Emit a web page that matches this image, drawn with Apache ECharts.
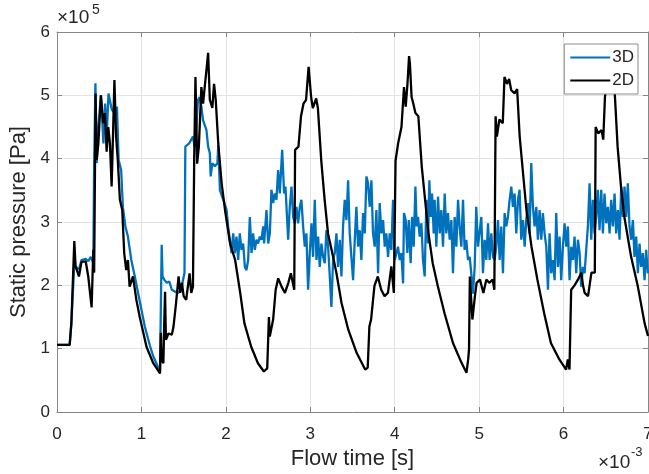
<!DOCTYPE html>
<html>
<head>
<meta charset="utf-8">
<script src="https://cdn.jsdelivr.net/npm/echarts@6/dist/echarts.min.js"></script>
<style>html,body{margin:0;padding:0;background:#fff;}#chart{width:649px;height:474px;}</style>
</head>
<body>
<div id="chart"></div>
<script>
// Units: time in 1e-3 s, pressure in 1e5 Pa (as shown on the axes)
const xTicks = [0, 1, 2, 3, 4, 5, 6, 7];
const yTicks = [0, 1, 2, 3, 4, 5, 6];
const xExponent = '-3';
const yExponent = '5';
const seriesNames = ['3D', '2D'];

// 2D (black)
const t2D = [0,0.15,0.17,0.19,0.205,0.22,0.26,0.29,0.34,0.37,0.41,0.43,0.44,0.457,0.47,0.49,0.52,0.548,0.568,0.588,0.607,0.627,0.647,0.667,0.68,0.70,0.72,0.745,0.773,0.796,0.82,0.84,0.86,0.90,0.94,0.98,1.06,1.14,1.22,1.23,1.24,1.26,1.27,1.28,1.29,1.32,1.36,1.38,1.41,1.44,1.46,1.48,1.50,1.53,1.57,1.59,1.61,1.625,1.64,1.66,1.68,1.71,1.73,1.75,1.77,1.79,1.81,1.84,1.86,1.88,1.91,1.95,1.99,2.05,2.11,2.17,2.22,2.30,2.38,2.45,2.49,2.51,2.52,2.56,2.59,2.62,2.66,2.70,2.74,2.77,2.81,2.82,2.86,2.89,2.92,2.95,2.98,3.01,3.03,3.07,3.09,3.13,3.17,3.21,3.27,3.31,3.37,3.45,3.55,3.65,3.68,3.70,3.72,3.76,3.80,3.84,3.88,3.92,3.96,3.99,4.01,4.04,4.08,4.11,4.13,4.15,4.17,4.18,4.20,4.22,4.245,4.28,4.32,4.36,4.40,4.45,4.51,4.59,4.69,4.79,4.85,4.87,4.88,4.89,4.92,4.95,4.97,5.01,5.05,5.085,5.12,5.16,5.18,5.195,5.21,5.24,5.28,5.30,5.33,5.355,5.38,5.42,5.45,5.48,5.52,5.56,5.62,5.69,5.77,5.85,5.95,6.03,6.05,6.07,6.09,6.13,6.17,6.21,6.23,6.25,6.29,6.33,6.37,6.38,6.41,6.45,6.47,6.49,6.51,6.54,6.57,6.60,6.64,6.68,6.72,6.80,6.88,6.96,7.0];
const p2D = [1.06,1.06,1.40,1.40,2.70,2.30,2.14,2.37,2.38,2.14,1.65,2.56,2.20,5.03,3.98,4.24,5.00,4.56,4.72,4.11,4.50,4.24,3.56,4.56,5.24,4.35,3.98,3.35,3.19,2.51,2.24,2.40,1.98,2.14,1.77,1.50,1.03,0.77,0.61,1.25,0.81,0.77,1.40,1.90,1.14,1.24,1.22,1.35,1.72,2.14,1.88,2.04,1.83,1.77,2.19,1.88,1.98,3.97,5.29,3.92,4.19,5.13,4.87,4.87,5.40,5.67,4.93,4.80,5.18,4.93,4.24,3.61,3.19,2.66,2.40,1.88,1.40,1.03,0.77,0.64,0.69,1.50,1.19,1.46,1.93,2.11,1.98,1.88,2.04,2.19,1.93,4.14,4.19,4.67,4.87,4.93,5.45,4.97,4.80,4.95,4.80,3.97,3.35,2.82,2.45,2.19,1.72,1.30,0.93,0.67,0.70,1.35,1.46,1.99,2.14,1.93,1.83,1.88,2.30,1.88,3.97,4.24,4.50,5.13,4.82,5.16,5.62,5.50,4.97,4.87,4.72,4.67,3.88,3.35,2.82,2.35,1.99,1.56,1.09,0.78,0.62,0.83,0.99,2.14,1.46,1.83,2.04,2.09,1.88,2.09,2.04,2.09,1.93,4.67,4.35,4.62,4.56,5.29,5.18,5.26,5.08,5.03,5.10,4.35,3.77,3.19,2.61,2.09,1.56,1.09,0.83,0.67,0.83,0.67,1.93,2.00,2.09,2.20,2.00,1.88,1.83,2.20,2.20,4.50,4.40,4.45,4.30,4.97,5.19,5.60,5.50,5.19,4.19,3.56,3.08,2.45,1.98,1.40,1.20];

// 3D (blue)
const t3D = [0,0.15,0.17,0.19,0.205,0.22,0.26,0.29,0.34,0.37,0.40,0.43,0.44,0.455,0.47,0.49,0.52,0.55,0.57,0.59,0.61,0.63,0.65,0.68,0.71,0.73,0.76,0.78,0.81,0.84,0.88,0.92,0.98,1.04,1.10,1.14,1.20,1.22,1.24,1.25,1.27,1.30,1.33,1.36,1.40,1.435,1.47,1.49,1.51,1.52,1.54,1.565,1.59,1.61,1.63,1.65,1.67,1.69,1.71,1.73,1.75,1.77,1.79,1.81,1.82,1.84,1.87,1.90,1.91,1.93,1.97,
2.008,2.027,2.047,2.067,2.087,2.106,2.126,2.146,2.165,2.185,2.205,2.225,2.244,2.264,2.284,2.304,2.323,2.343,2.363,2.382,2.402,2.422,2.442,2.453,2.481,2.501,2.521,2.540,2.560,2.580,2.599,2.619,2.639,2.667,2.690,2.706,2.722,2.738,2.757,2.777,2.797,2.816,2.836,2.856,2.876,2.895,2.915,2.935,2.954,2.974,2.994,
3.014,3.033,3.053,3.073,3.093,3.112,3.132,3.152,3.172,3.191,3.211,3.231,3.250,3.270,3.290,3.310,3.329,3.349,3.369,3.388,3.408,3.428,3.448,3.467,3.487,3.507,3.527,3.546,3.566,3.586,3.605,3.625,3.645,3.665,3.684,3.704,3.724,3.743,3.763,3.783,3.803,3.822,3.842,3.862,3.882,3.901,3.921,3.941,3.960,3.980,4.000,
4.020,4.039,4.059,4.079,4.099,4.110,4.130,4.150,4.166,4.189,4.205,4.225,4.245,4.260,4.276,4.296,4.316,4.335,4.355,4.375,4.394,4.410,4.426,4.442,4.462,4.473,4.493,4.513,4.533,4.552,4.572,4.592,4.611,4.631,4.651,4.671,4.690,4.710,4.730,4.750,4.769,4.789,4.809,4.828,4.848,4.868,4.888,4.907,4.927,4.947,4.966,4.986,
5.026,5.045,5.065,5.085,5.105,5.124,5.144,5.164,5.183,5.203,5.223,5.243,5.262,5.282,5.302,5.322,5.341,5.361,5.381,5.400,5.420,5.440,5.460,5.479,5.499,5.519,5.539,5.558,5.578,5.598,5.617,5.637,5.657,5.677,5.696,5.716,5.736,5.755,5.775,5.795,5.815,5.834,5.854,5.874,5.894,5.913,5.933,5.953,5.972,5.992,
6.012,6.032,6.051,6.071,6.091,6.111,6.130,6.150,6.170,6.190,6.209,6.229,6.249,6.268,6.288,6.308,6.328,6.347,6.367,6.387,6.406,6.426,6.446,6.466,6.485,6.505,6.525,6.545,6.564,6.584,6.604,6.623,6.643,6.663,6.683,6.702,6.722,6.742,6.761,6.781,6.801,6.821,6.840,6.860,6.880,6.900,6.919,6.939,6.959,6.978,6.998];
const p3D = [1.06,1.06,1.40,1.40,2.35,2.30,2.25,2.40,2.42,2.38,2.45,2.35,3.90,5.19,3.93,4.50,5.00,4.24,4.87,4.40,5.03,5.05,4.77,4.72,4.82,3.98,3.82,3.24,2.93,2.77,2.40,2.15,1.75,1.35,1.05,0.88,0.70,0.66,2.64,2.14,2.09,2.04,2.06,1.93,1.90,1.88,1.93,1.96,2.20,4.19,4.21,4.24,4.30,4.35,4.19,4.50,4.93,4.97,4.82,4.61,4.58,4.45,4.19,4.09,3.72,3.93,3.88,3.93,4.21,3.50,3.35,
3.19,2.93,2.72,2.51,2.82,2.51,2.77,2.40,2.82,2.56,2.66,2.29,2.24,2.40,3.08,2.51,2.82,2.56,2.72,2.66,2.77,2.72,2.93,2.66,3.19,2.66,2.82,3.51,3.30,3.45,3.35,3.82,3.45,4.14,3.45,3.56,3.14,2.72,3.24,3.56,3.08,2.98,3.24,2.98,3.24,3.35,2.93,2.61,2.82,1.93,2.51,
2.98,2.45,3.35,2.40,2.77,2.29,2.66,2.45,2.35,2.87,2.61,2.14,1.66,2.40,2.51,2.82,2.29,2.72,2.14,2.93,3.35,3.03,3.66,2.82,2.45,2.08,2.72,3.24,2.61,2.87,2.40,3.14,2.82,3.72,3.61,3.24,3.66,2.82,2.61,3.19,2.19,3.30,2.82,3.03,2.61,2.82,2.45,2.82,2.56,3.35,2.40,
2.40,2.61,2.40,2.51,2.03,3.14,3.03,2.51,3.03,2.35,3.08,2.61,3.56,2.93,3.08,2.77,2.98,2.40,2.14,3.35,2.66,3.66,3.08,3.45,2.82,3.35,2.61,3.40,2.82,3.19,2.61,3.45,2.82,3.14,2.72,3.03,2.19,3.08,2.61,3.35,2.93,2.61,3.35,2.56,2.72,2.40,2.45,2.19,1.87,2.29,3.24,2.61,
3.08,2.19,2.72,2.40,2.98,2.40,2.82,2.45,2.40,2.61,3.03,2.40,2.93,2.19,3.14,2.93,3.08,3.35,3.56,3.24,3.45,2.82,3.35,3.51,2.72,3.03,2.61,3.03,3.30,2.82,3.93,3.24,2.93,3.24,2.72,3.19,2.72,3.14,2.82,2.61,1.93,2.82,2.19,2.40,2.08,3.14,2.29,2.77,2.08,2.61,
2.98,2.61,2.93,2.08,2.61,2.40,2.77,2.19,2.72,2.51,1.98,2.29,2.19,2.56,2.93,3.61,2.72,3.35,2.82,3.08,3.51,2.87,3.51,2.82,3.45,2.98,3.24,2.82,3.35,2.93,3.45,2.82,3.19,2.72,3.56,3.08,3.56,3.08,3.61,2.93,2.72,3.03,2.45,2.77,2.19,2.66,2.29,2.51,2.08,2.56,2.19];

const pairs = (xs, ys) => xs.map((x, i) => [x, ys[i]]);
const FONT = '"Liberation Sans", Arial, Helvetica, sans-serif';
const AXC = '#868686';
const TXT = '#262626';

const chart = echarts.init(document.getElementById('chart'), null, {renderer: 'canvas'});
chart.setOption({
  animation: false,
  backgroundColor: '#fff',
  textStyle: {fontFamily: FONT},
  grid: {left: 57, right: 1, top: 32, bottom: 62, show: false, containLabel: false, outerBoundsMode: 'none'},
  legend: {
    data: seriesNames,
    orient: 'vertical',
    right: 11, top: 44,
    padding: [5, 4, 5, 6],
    itemGap: 6,
    itemWidth: 40, itemHeight: 2,
    icon: 'rect',
    backgroundColor: '#fff',
    borderColor: '#8c8c8c', borderWidth: 1, borderRadius: 0,
    textStyle: {fontSize: 17, color: TXT, fontFamily: FONT, padding: [0, 0, 0, -3]},
    z: 10
  },
  xAxis: [{
    type: 'value', min: xTicks[0], max: xTicks[xTicks.length - 1], interval: 1,
    name: 'Flow time [s]', nameLocation: 'middle', nameGap: 36,
    nameTextStyle: {fontSize: 22, color: TXT, fontFamily: FONT},
    axisLine: {show: true, lineStyle: {color: AXC, width: 1}},
    axisTick: {show: true, inside: true, length: 5, lineStyle: {color: AXC}},
    axisLabel: {fontSize: 17, color: TXT, margin: 14, fontFamily: FONT},
    splitLine: {show: true, lineStyle: {color: '#e3e3e3', width: 1}}
  }, {
    type: 'value', position: 'top', min: xTicks[0], max: xTicks[xTicks.length - 1], interval: 1,
    axisLine: {show: true, onZero: false, lineStyle: {color: AXC, width: 1}},
    axisTick: {show: true, inside: true, length: 5, lineStyle: {color: AXC}},
    axisLabel: {show: false}, splitLine: {show: false}
  }],
  yAxis: [{
    type: 'value', min: yTicks[0], max: yTicks[yTicks.length - 1], interval: 1,
    name: 'Static pressure [Pa]', nameLocation: 'middle', nameGap: 23,
    nameTextStyle: {fontSize: 22, color: TXT, fontFamily: FONT},
    axisLine: {show: true, lineStyle: {color: AXC, width: 1}},
    axisTick: {show: true, inside: true, length: 5, lineStyle: {color: AXC}},
    axisLabel: {fontSize: 17, color: TXT, margin: 7, fontFamily: FONT},
    splitLine: {show: true, lineStyle: {color: '#e3e3e3', width: 1}}
  }, {
    type: 'value', position: 'right', min: yTicks[0], max: yTicks[yTicks.length - 1], interval: 1,
    axisLine: {show: true, onZero: false, lineStyle: {color: AXC, width: 1}},
    axisTick: {show: true, inside: true, length: 5, lineStyle: {color: AXC}},
    axisLabel: {show: false}, splitLine: {show: false}
  }],
  series: [{
    name: seriesNames[0], type: 'line', data: pairs(t3D, p3D),
    showSymbol: false, symbol: 'none',
    lineStyle: {color: '#0072BD', width: 2.3}, itemStyle: {color: '#0072BD'}, z: 2
  }, {
    name: seriesNames[1], type: 'line', data: pairs(t2D, p2D),
    showSymbol: false, symbol: 'none',
    lineStyle: {color: '#000000', width: 2.3}, itemStyle: {color: '#000000'}, z: 3
  }],
  graphic: [
    {type: 'text', left: 57, top: 8, style: {text: '×10', font: '19px ' + FONT, fill: TXT}},
    {type: 'text', left: 92, top: 3, style: {text: yExponent, font: '14px ' + FONT, fill: TXT}},
    {type: 'text', left: 598, top: 453, style: {text: '×10', font: '19px ' + FONT, fill: TXT}},
    {type: 'text', left: 631, top: 446, style: {text: xExponent, font: '13px ' + FONT, fill: TXT}}
  ]
});
</script>
</body>
</html>
